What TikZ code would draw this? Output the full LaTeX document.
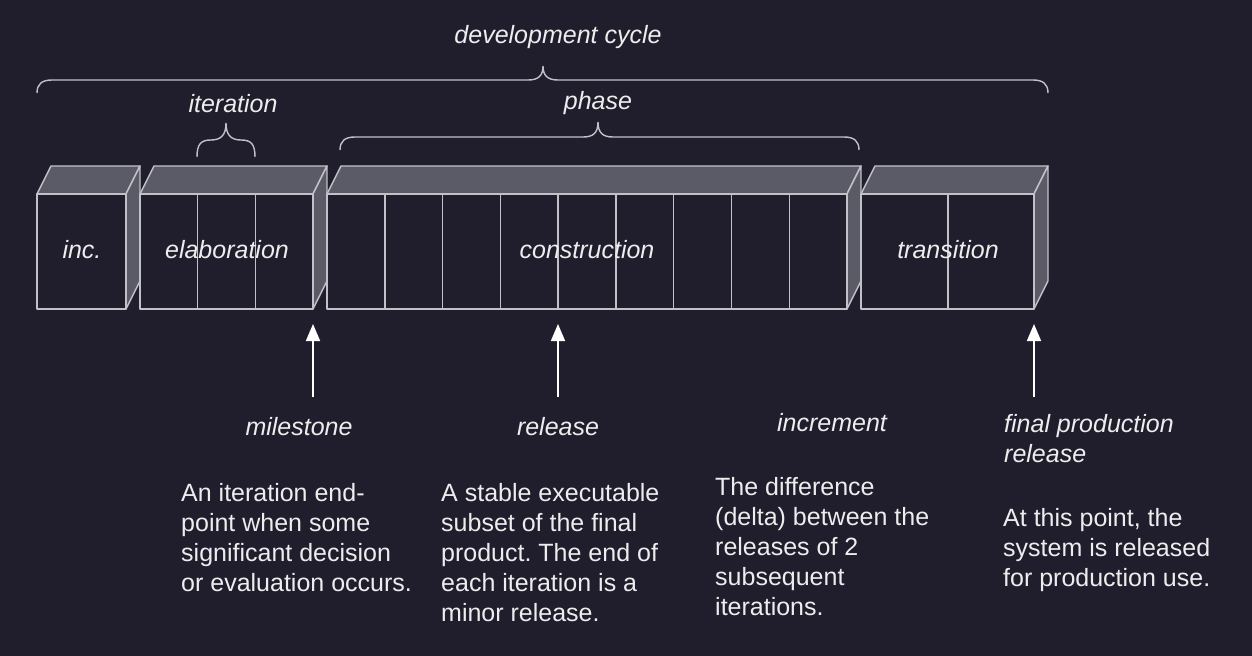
\documentclass[tikz,border=0pt]{standalone}
\usepackage{fontspec}
\setmainfont{Liberation Sans}
\frenchspacing
\usetikzlibrary{arrows.meta}
\definecolor{bg}{HTML}{201E2D}
\definecolor{face}{HTML}{5B5A67}
\definecolor{edge}{HTML}{C2C1C8}
\definecolor{txt}{HTML}{EDEDED}
\tikzset{
  edgeline/.style={draw=edge, line width=1.4bp, line join=round},
  sideface/.style={edgeline, fill=face},
  frontface/.style={edgeline, fill=bg},
  lbl/.style={text=txt, font=\fontsize{25bp}{30bp}\selectfont\itshape, inner sep=0pt},
  desc/.style={text=txt, font=\fontsize{25bp}{30bp}\selectfont, align=left, inner sep=0pt, anchor=north west},
  brace/.style={draw=edge, line width=1.4bp},
  uparrow/.style={draw=white, line width=1.6bp, -{Triangle[length=17bp,width=14bp]}}
}
\newcommand\drawcuboid[3]{%
  \path[sideface] (#1,194) -- (#1+14,166) -- (#2+14,166) -- (#2,194) -- cycle;
  \path[sideface] (#2,194) -- (#2+14,166) -- (#2+14,281) -- (#2,309) -- cycle;
  \path[frontface] (#1,194) rectangle (#2,309);
  \foreach \xx in {#3} {\draw[edgeline] (\xx,194) -- (\xx,309);}
}
\begin{document}
\begin{tikzpicture}[x=1bp, y=-1bp]
\useasboundingbox (0,0) rectangle (1252,656);
\fill[bg] (0,0) rectangle (1252,656);

% cuboids
\drawcuboid{37}{126}{}
\drawcuboid{140}{313}{197.7,255.3}
\drawcuboid{327}{847}{384.8,442.6,500.3,558.1,615.9,673.7,731.4,789.2}
\drawcuboid{861}{1034}{948}

\node[lbl] (inc) at (82,250) {inc.};
\node[lbl] (elab) at (227,250) {elaboration};
\node[lbl] (cons) at (587,250) {construction};
\node[lbl] (trans) at (948,250) {transition};

% braces
\draw[brace] (37,93) .. controls (37,84) and (42,80) .. (52,80) -- (528,80)
  .. controls (538,80) and (543,76) .. (543,66)
  .. controls (543,76) and (548,80) .. (558,80) -- (1033,80)
  .. controls (1043,80) and (1048,84) .. (1048,93);
\node[lbl] (devcycle) at (558,37) {development cycle};

\draw[brace] (197,157) .. controls (197,144) and (201,140) .. (211,140)
  .. controls (221,140) and (226,135) .. (226,123)
  .. controls (226,135) and (231,140) .. (241,140)
  .. controls (251,140) and (255,144) .. (255,157);
\node[lbl] (iter) at (233,104) {iteration};

\draw[brace] (340,150) .. controls (340,141) and (345,137) .. (355,137) -- (583,137)
  .. controls (593,137) and (598,133) .. (598,122)
  .. controls (598,133) and (603,137) .. (613,137) -- (844,137)
  .. controls (854,137) and (859,141) .. (859,150);
\node[lbl] (phase) at (598,103) {phase};

% arrows
\coordinate (ms0) at (313,397); \coordinate (ms1) at (313,324);
\coordinate (rl0) at (558,397); \coordinate (rl1) at (558,324);
\coordinate (fp0) at (1034,397); \coordinate (fp1) at (1034,324);
\draw[uparrow] (ms0) -- (ms1);
\draw[uparrow] (rl0) -- (rl1);
\draw[uparrow] (fp0) -- (fp1);

% labels
\node[lbl] (milestone) at (299,427) {milestone};
\node[lbl] (release) at (558,427) {release};
\node[lbl] (increment) at (832,423) {increment};
\node[lbl, align=left, anchor=north west] (final) at (1004,414) {final production\\release};

% descriptions
\node[desc] (d1) at (181,483) {An iteration end-\\point when some\\significant decision\\or evaluation occurs.};
\node[desc] (d2) at (441,483) {A stable executable\\subset of the final\\product. The end of\\each iteration is a\\minor release.};
\node[desc] (d3) at (715,477) {The difference\\(delta) between the\\releases of 2\\subsequent\\iterations.};
\node[desc] (d4) at (1003,508) {At this point, the\\system is released\\for production use.};
\end{tikzpicture}
\end{document}
